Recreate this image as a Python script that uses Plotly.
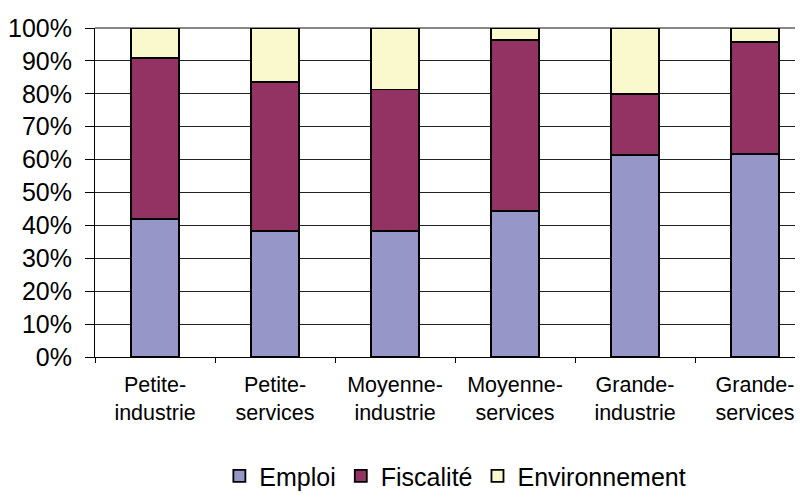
import plotly.graph_objects as go

categories = ["Petite-<br>industrie", "Petite-<br>services", "Moyenne-<br>industrie",
              "Moyenne-<br>services", "Grande-<br>industrie", "Grande-<br>services"]
emploi = [41.9, 38.2, 38.2, 44.4, 61.3, 61.8]
fiscalite = [49.1, 45.5, 43.1, 52.0, 18.7, 34.0]
environnement = [9.0, 16.3, 18.7, 3.6, 20.0, 4.2]
tick_vals = [0, 10, 20, 30, 40, 50, 60, 70, 80, 90, 100]
tick_text = [f"{v}%" for v in tick_vals]

series = [
    ("Emploi", emploi, "#9696C8"),
    ("Fiscalité", fiscalite, "#933363"),
    ("Environnement", environnement, "#FAF8CD"),
]

fig = go.Figure()
for name, vals, col in series:
    fig.add_trace(go.Bar(
        x=categories, y=vals, name=name,
        marker=dict(color=col, line=dict(color="black", width=1.8)),
    ))

font = "Liberation Sans, Arial, sans-serif"
fig.update_layout(
    width=803, height=495,
    barmode="stack", bargap=0.6,
    plot_bgcolor="white", paper_bgcolor="white",
    margin=dict(l=87, r=8, t=20, b=146, autoexpand=False),
    font=dict(family=font, color="black"),
    showlegend=True,
    legend=dict(orientation="h", traceorder="normal",
                x=0.509, xanchor="center", y=-0.362, yanchor="middle",
                font=dict(size=25, family=font), itemwidth=30,
                tracegroupgap=0),
    xaxis=dict(range=[-0.5, 5.4], showline=True, linecolor="black", linewidth=1,
               ticks="outside", tickson="boundaries", ticklen=5, tickcolor="black",
               ticklabelstandoff=8, automargin=False,
               tickfont=dict(size=21.5, family=font), showgrid=False),
    yaxis=dict(range=[0, 100], tickvals=tick_vals, ticktext=tick_text,
               showline=True, linecolor="black", linewidth=1,
               ticks="outside", ticklen=9, tickcolor="black",
               ticklabelstandoff=8, automargin=False,
               gridcolor="#222222", gridwidth=1,
               tickfont=dict(size=25, family=font)),
)
fig.add_shape(type="line", xref="paper", yref="paper", x0=0, x1=1, y0=1, y1=1,
              line=dict(color="#888888", width=2), layer="between")
fig.write_html("out.html")
